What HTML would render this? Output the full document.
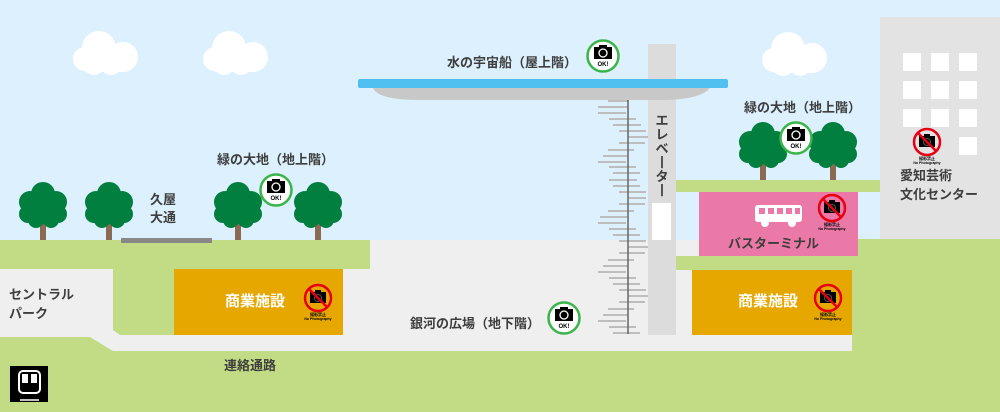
<!DOCTYPE html>
<html><head><meta charset="utf-8"><style>
html,body{margin:0;padding:0;width:1000px;height:412px;overflow:hidden;background:#dcf0fd}
svg{display:block}
text{font-family:"Liberation Sans","Noto Sans CJK JP",sans-serif;font-weight:bold}
</style></head><body>
<svg width="1000" height="412" viewBox="0 0 1000 412" xmlns="http://www.w3.org/2000/svg">
<defs>
<g id="cloud" fill="#fff">
<circle cx="99" cy="48" r="17"/><circle cx="123" cy="57" r="15"/><circle cx="85" cy="59" r="12"/><circle cx="94" cy="64" r="11"/><circle cx="111" cy="64" r="11"/><rect x="85" y="50" width="40" height="22"/>
</g>
<g id="tree">
<rect x="-3" y="10" width="6" height="28" fill="#8a6a52"/>
<g fill="#007f3e"><circle cx="0" cy="-8" r="12"/><circle cx="-13" cy="0" r="11"/><circle cx="13" cy="0" r="11"/><circle cx="-15" cy="12" r="9"/><circle cx="15" cy="12" r="9"/><circle cx="0" cy="8" r="14"/><circle cx="-7" cy="18" r="8"/><circle cx="8" cy="18" r="8"/></g>
</g>
<g id="ok">
<circle r="15.5" fill="#fff" stroke="#3bb44a" stroke-width="2.5"/>
<rect x="-9" y="-9" width="18" height="12" fill="#000"/><rect x="-4" y="-11" width="8" height="3" fill="#000"/>
<circle cx="0" cy="-3" r="4" fill="none" stroke="#fff" stroke-width="1.3"/>
<text x="0" y="10" font-size="6" text-anchor="middle" fill="#000">OK!</text>
</g>
<g id="no">
<circle r="13" fill="none" stroke="#e60012" stroke-width="2.5"/>
<rect x="-8" y="-6" width="16" height="11" fill="#000"/><rect x="-3" y="-8" width="6" height="3" fill="#000"/>
<circle cx="0" cy="0" r="3.5" fill="none" stroke="#555" stroke-width="1"/>
<line x1="-9" y1="-9" x2="9" y2="9" stroke="#e60012" stroke-width="2.5"/>
<text x="0" y="18" font-size="4" text-anchor="middle" fill="#000">撮影禁止</text>
<text x="0" y="22" font-size="3.5" text-anchor="middle" fill="#000">No Photography</text>
</g>
</defs>
<rect width="1000" height="412" fill="#dcf0fd"/>
<use href="#cloud"/><use href="#cloud" x="130"/><use href="#cloud" x="689" y="1"/>
<rect x="880" y="17" width="120" height="225" fill="#e3e3e3"/>
<g fill="#fff"><rect x="903" y="53" width="18" height="18"/><rect x="931" y="53" width="18" height="18"/><rect x="959" y="53" width="18" height="18"/>
<rect x="903" y="81" width="18" height="18"/><rect x="931" y="81" width="18" height="18"/><rect x="959" y="81" width="18" height="18"/>
<rect x="903" y="109" width="18" height="18"/><rect x="931" y="109" width="18" height="18"/><rect x="959" y="109" width="18" height="18"/>
<rect x="959" y="137" width="18" height="18"/></g>
<rect x="0" y="240" width="880" height="112" fill="#efefef"/>
<rect x="0" y="240" width="370" height="29" fill="#c2dc85"/>
<rect x="113" y="269" width="62" height="66" fill="#c2dc85"/>
<polygon points="113,330 120,335 113,335" fill="#efefef"/>
<polygon points="0,337 90,337 113,351 852,351 852,239 1000,239 1000,412 0,412" fill="#c2dc85"/>
<rect x="174" y="269" width="169" height="66" fill="#e6a800"/>
<rect x="675" y="180" width="205" height="12" fill="#c2dc85"/>
<rect x="699" y="192" width="159" height="64" fill="#eb79a8"/>
<rect x="674" y="256" width="180" height="14" fill="#c2dc85"/>
<rect x="692" y="270" width="160" height="65" fill="#e6a800"/>
<rect x="121" y="238" width="91" height="5" fill="#888"/>
<use href="#tree" x="43" y="202"/><use href="#tree" x="109" y="202"/><use href="#tree" x="238" y="202"/><use href="#tree" x="318" y="202"/>
<use href="#tree" x="763" y="142"/><use href="#tree" x="833" y="142"/>
<rect x="648" y="44" width="28" height="291" fill="#dcdcdc"/>
<rect x="652" y="203" width="19" height="37" fill="#fff"/>
<g stroke="#bdbdbd" stroke-width="2">
<line x1="608" y1="101" x2="629" y2="101"/><line x1="598" y1="107" x2="628" y2="107"/><line x1="598" y1="113" x2="626" y2="113"/>
<line x1="609" y1="119" x2="636" y2="119"/><line x1="613" y1="125" x2="641" y2="125"/><line x1="619" y1="131" x2="646" y2="131"/>
<line x1="628" y1="137" x2="648" y2="137"/><line x1="619" y1="143" x2="645" y2="143"/><line x1="608" y1="150" x2="634" y2="150"/>
<line x1="603" y1="156" x2="628" y2="156"/><line x1="598" y1="162" x2="626" y2="162"/><line x1="609" y1="167" x2="636" y2="167"/>
<line x1="613" y1="173" x2="640" y2="173"/><line x1="609" y1="180" x2="637" y2="180"/><line x1="613" y1="186" x2="640" y2="186"/>
<line x1="619" y1="192" x2="646" y2="192"/><line x1="628" y1="198" x2="646" y2="198"/><line x1="619" y1="204" x2="645" y2="204"/>
<line x1="608" y1="211" x2="634" y2="211"/><line x1="600" y1="217" x2="628" y2="217"/><line x1="598" y1="223" x2="626" y2="223"/>
<line x1="609" y1="229" x2="636" y2="229"/><line x1="613" y1="235" x2="640" y2="235"/><line x1="619" y1="241" x2="646" y2="241"/>
<line x1="628" y1="247" x2="648" y2="247"/><line x1="619" y1="253" x2="645" y2="253"/><line x1="608" y1="260" x2="634" y2="260"/>
<line x1="603" y1="266" x2="628" y2="266"/><line x1="598" y1="272" x2="626" y2="272"/><line x1="609" y1="278" x2="636" y2="278"/>
<line x1="613" y1="284" x2="640" y2="284"/><line x1="619" y1="290" x2="646" y2="290"/><line x1="628" y1="296" x2="648" y2="296"/>
<line x1="619" y1="302" x2="645" y2="302"/><line x1="608" y1="309" x2="634" y2="309"/><line x1="603" y1="315" x2="628" y2="315"/>
<line x1="598" y1="321" x2="626" y2="321"/><line x1="609" y1="327" x2="636" y2="327"/><line x1="613" y1="333" x2="640" y2="333"/>
</g>
<line x1="628" y1="100" x2="628" y2="334" stroke="#666" stroke-width="1.5"/>
<path d="M373,88 L710,88 Q700,100 660,100 L420,100 Q378,100 373,88 Z" fill="#c8c8c8"/>
<rect x="358" y="79" width="370" height="9" rx="2" fill="#4fc0ef"/>
<g fill="#fff"><rect x="755" y="205" width="47" height="17" rx="3"/><circle cx="765" cy="223" r="4"/><circle cx="792" cy="223" r="4"/></g>
<g fill="#eb79a8"><rect x="759" y="208" width="6" height="6"/><rect x="768" y="208" width="6" height="6"/><rect x="777" y="208" width="6" height="6"/><rect x="786" y="208" width="6" height="6"/><rect x="795" y="208" width="5" height="6"/></g>
<rect x="10" y="366" width="38" height="36" fill="#000"/>
<rect x="19" y="371" width="21" height="22" rx="4" fill="none" stroke="#fff" stroke-width="2"/>
<rect x="22" y="374" width="6" height="9" fill="#fff"/><rect x="31" y="374" width="6" height="9" fill="#fff"/>
<line x1="20" y1="400" x2="39" y2="400" stroke="#fff" stroke-width="1.5"/>
<use href="#ok" x="276" y="190"/><use href="#ok" x="603" y="56"/><use href="#ok" x="564" y="318"/><use href="#ok" x="796" y="138"/>
<use href="#no" x="318" y="298"/><use href="#no" x="832" y="208"/><use href="#no" x="828" y="298"/><use href="#no" x="927" y="142"/>
<g fill="#3e3e3e" font-size="13">
<text x="447" y="67">水の宇宙船（屋上階）</text>
<text x="217" y="164">緑の大地（地上階）</text>
<text x="744" y="112">緑の大地（地上階）</text>
<text x="150" y="204">久屋</text><text x="150" y="222">大通</text>
<text x="9" y="299">セントラル</text><text x="9" y="318">パーク</text>
<text x="224" y="370">連絡通路</text>
<text x="410" y="328">銀河の広場（地下階）</text>
<text x="900" y="180">愛知芸術</text><text x="900" y="199">文化センター</text>
<text x="728" y="248">バスターミナル</text>
<g font-size="13" text-anchor="middle"><text x="662" y="125">エ</text><text x="662" y="139">レ</text><text x="662" y="153">ベ</text><text x="662" y="167">丨</text><text x="662" y="181">タ</text><text x="662" y="195">丨</text></g>
</g>
<g fill="#fff" font-size="15"><text x="225" y="306">商業施設</text><text x="738" y="306">商業施設</text></g>
</svg>
</body></html>
